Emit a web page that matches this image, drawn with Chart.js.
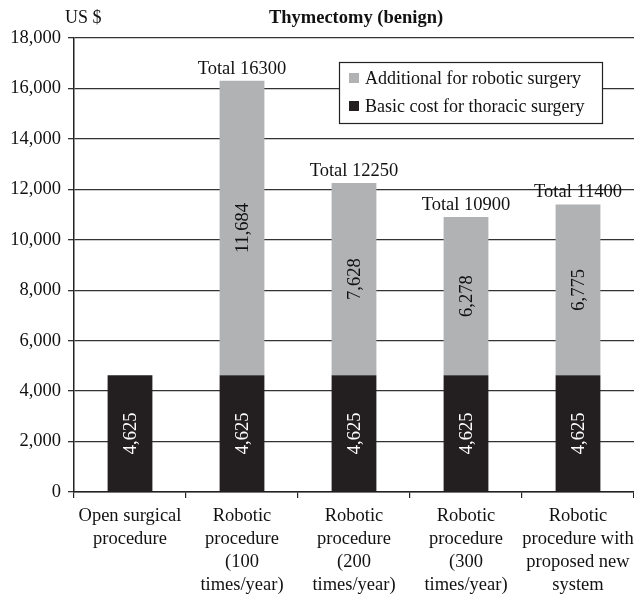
<!DOCTYPE html>
<html>
<head>
<meta charset="utf-8">
<script src="https://cdn.jsdelivr.net/npm/chart.js@4"></script>
<style>
  html, body { margin: 0; padding: 0; background: #fff; }
  canvas { display: block; }
</style>
</head>
<body>
<canvas id="myChart" width="634" height="594"></canvas>
<script>
// chart data
const categories = [
    ['Open surgical', 'procedure'],
    ['Robotic', 'procedure', '(100', 'times/year)'],
    ['Robotic', 'procedure', '(200', 'times/year)'],
    ['Robotic', 'procedure', '(300', 'times/year)'],
    ['Robotic', 'procedure with', 'proposed new', 'system']
];
const basicCost = [4625, 4625, 4625, 4625, 4625];
const roboticExtra = [0, 11684, 7628, 6278, 6775];
const totals = [null, 16300, 12250, 10900, 11400];
const yTicks = [0, 2000, 4000, 6000, 8000, 10000, 12000, 14000, 16000, 18000];

const FONT = '"Liberation Serif", "Times New Roman", serif';
const DARK = '#231f20';
const GREY = '#b1b2b4';

const fmt = v => v.toLocaleString('en-US');

// labels, totals, legend box and titles
const extras = {
    id: 'extras',
    afterDatasetsDraw(chart) {
        const ctx = chart.ctx;
        const area = chart.chartArea;
        ctx.save();

        // value labels rotated inside the bars
        chart.data.datasets.forEach((ds, di) => {
            const meta = chart.getDatasetMeta(di);
            meta.data.forEach((bar, i) => {
                const v = ds.data[i];
                if (!v) return;
                const yMid = (bar.y + bar.base) / 2;
                ctx.save();
                ctx.translate(bar.x, yMid);
                ctx.rotate(-Math.PI / 2);
                ctx.font = '18.5px ' + FONT;
                ctx.fillStyle = di === 0 ? '#ffffff' : '#111';
                ctx.textAlign = 'center';
                ctx.textBaseline = 'middle';
                ctx.fillText(fmt(v), 0, 1);
                ctx.restore();
            });
        });

        // totals above bars
        const top = chart.getDatasetMeta(1);
        ctx.font = '18.5px ' + FONT;
        ctx.fillStyle = '#111';
        ctx.textAlign = 'center';
        ctx.textBaseline = 'alphabetic';
        totals.forEach((t, i) => {
            if (t === null) return;
            const bar = top.data[i];
            ctx.fillText('Total ' + t, bar.x, bar.y - 7);
        });

        // legend box
        const lx = 339, ly = 62, lw = 263, lh = 61;
        ctx.fillStyle = '#fff';
        ctx.fillRect(lx, ly, lw, lh);
        ctx.strokeStyle = '#222';
        ctx.lineWidth = 1.2;
        ctx.strokeRect(lx + 0.5, ly + 0.5, lw, lh);
        const items = [[GREY, 'Additional for robotic surgery'], [DARK, 'Basic cost for thoracic surgery']];
        items.forEach((it, k) => {
            const cy = ly + 16 + k * 28;
            ctx.fillStyle = it[0];
            ctx.fillRect(lx + 10, cy - 5, 10, 10);
            ctx.fillStyle = '#111';
            ctx.textAlign = 'left';
            ctx.textBaseline = 'middle';
            ctx.font = '18px ' + FONT;
            ctx.fillText(it[1], lx + 26, cy + 1);
        });

        // titles
        ctx.fillStyle = '#111';
        ctx.textBaseline = 'middle';
        ctx.textAlign = 'left';
        ctx.font = '18px ' + FONT;
        ctx.fillText('US $', 65, 18);
        ctx.textAlign = 'center';
        ctx.font = 'bold 18.5px ' + FONT;
        ctx.fillText('Thymectomy (benign)', (area.left + area.right) / 2 + 2, 18);

        ctx.restore();
    }
};

const renderChart = () => {
    const ctx = document.getElementById('myChart');
    new Chart(ctx, {
        type: 'bar',
        data: {
            labels: categories,
            datasets: [
                {
                    label: 'Basic cost for thoracic surgery',
                    data: basicCost,
                    backgroundColor: DARK,
                    barPercentage: 0.4,
                    categoryPercentage: 1
                },
                {
                    label: 'Additional for robotic surgery',
                    data: roboticExtra,
                    backgroundColor: GREY,
                    barPercentage: 0.4,
                    categoryPercentage: 1
                }
            ]
        },
        options: {
            responsive: false,
            animation: false,
            layout: { padding: { top: 38, right: 0, left: 0, bottom: 0 } },
            plugins: {
                legend: { display: false },
                title: { display: false },
                tooltip: { enabled: false }
            },
            scales: {
                x: {
                    stacked: true,
                    afterFit: s => {
                        s.height = 102;
                        s.paddingLeft = 0;
                        s.paddingRight = 0;
                    },
                    grid: {
                        offset: true,
                        drawOnChartArea: false,
                        drawTicks: true,
                        tickLength: 6,
                        color: '#222',
                        lineWidth: 1.2
                    },
                    border: { color: '#222', width: 1.5 },
                    ticks: {
                        color: '#111',
                        padding: 6,
                        maxRotation: 0,
                        autoSkip: false,
                        font: { family: FONT, size: 18.5, lineHeight: 1.26 }
                    }
                },
                y: {
                    stacked: true,
                    min: 0,
                    max: 18000,
                    afterFit: s => { s.width = 74; },
                    afterBuildTicks: s => { s.ticks = yTicks.map(v => ({ value: v })); },
                    grid: {
                        color: '#333',
                        lineWidth: 1.3,
                        tickLength: 6
                    },
                    border: { color: '#222', width: 1.5 },
                    ticks: {
                        color: '#111',
                        padding: 7,
                        callback: v => fmt(v),
                        font: { family: FONT, size: 18.5 }
                    }
                }
            }
        },
        plugins: [extras]
    });
};

renderChart();
</script>
</body>
</html>
